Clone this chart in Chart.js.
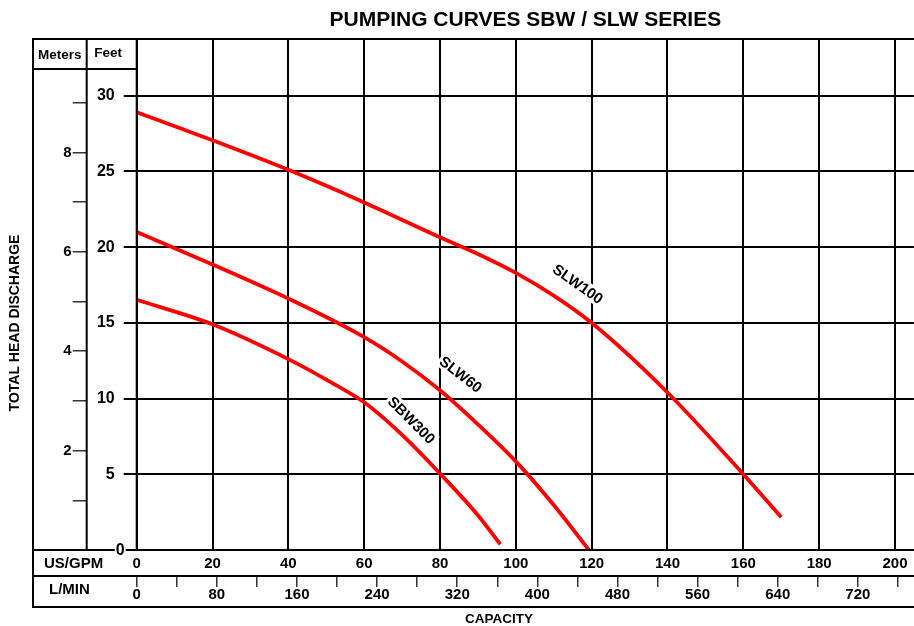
<!DOCTYPE html>
<html>
<head>
<meta charset="utf-8">
<script src="https://cdn.jsdelivr.net/npm/chart.js@4.4.0/dist/chart.umd.min.js"></script>
<style>
html,body{margin:0;padding:0;background:#fff;}
#wrap{width:914px;height:626px;position:relative;}
</style>
</head>
<body>
<div id="wrap"><canvas id="c" width="914" height="626"></canvas></div>
<script>
// ---- data ----
const gpmTicks = [0, 20, 40, 60, 80, 100, 120, 140, 160, 180, 200];
const lminTicks = [0, 40, 80, 120, 160, 200, 240, 280, 320, 360, 400, 440, 480, 520, 560, 600, 640, 680, 720, 760];
const feetTicks = [0, 5, 10, 15, 20, 25, 30];
const meterTicks = [1, 2, 3, 4, 5, 6, 7, 8, 9];

const slw100Gpm  = [0, 20, 40, 60, 80, 90, 100, 110, 120, 140, 160, 170];
const slw100Feet = [28.9, 27.05, 25.1, 22.95, 20.65, 19.55, 18.3, 16.8, 15.0, 10.4, 5.0, 2.16];

const slw60Gpm  = [0, 20, 40, 60, 70, 80, 90, 100, 110, 119.3];
const slw60Feet = [21.0, 18.85, 16.6, 14.05, 12.45, 10.55, 8.3, 5.85, 2.97, 0.0];

const sbw300Gpm  = [0, 20, 40, 50, 60, 70, 80, 90, 95.9];
const sbw300Feet = [16.52, 14.9, 12.6, 11.25, 9.75, 7.6, 5.05, 2.3, 0.38];

const curveNames  = ['SLW100', 'SLW60', 'SBW300'];
const labelGpm    = [116.4, 85.5, 72.5];
const labelFeet   = [17.57, 11.6, 8.58];
const labelAngle  = [35, 38, 45];

const titleText = 'PUMPING CURVES SBW / SLW SERIES';
const xTitle = 'CAPACITY';
const yTitle = 'TOTAL HEAD DISCHARGE';

// ---- helpers ----
const GPM_MAX = 205.0;
const FEET_MAX = 33.74;
const LPM_PER_GPM = 3.78541;
const M_PER_FT = 0.3048;
const FONT = "'Liberation Sans', Arial, Helvetica, sans-serif";
Chart.defaults.font.family = FONT;
Chart.defaults.color = '#000';

function pts(xs, ys) { return xs.map((x, i) => ({x: x, y: ys[i]})); }
function setTicks(vals) { return function (s) { s.ticks = vals.map(v => ({value: v})); }; }

const framePlugin = {
  id: 'frame',
  afterDatasetsDraw(chart) {
    const {ctx, chartArea: ca, scales} = chart;
    const xs = scales.x, x2 = scales.x2, ys = scales.y, y2 = scales.y2;
    const L = y2.left, R = chart.width;
    ctx.save();
    ctx.strokeStyle = '#000';
    ctx.lineWidth = 2;
    const line = (a, b, c, d) => { ctx.beginPath(); ctx.moveTo(a, b); ctx.lineTo(c, d); ctx.stroke(); };
    line(L, ca.top, R, ca.top);
    line(L, ca.top - 1, L, x2.bottom + 1);
    line(y2.right, ca.top, y2.right, ca.bottom);
    line(ca.left, ca.top, ca.left, ca.bottom);
    line(L, ca.top + 30, ca.left, ca.top + 30);
    line(L, ca.bottom, R, ca.bottom);
    line(L, xs.bottom, R, xs.bottom);
    line(L, x2.bottom, R, x2.bottom);

    ctx.fillStyle = '#000';
    ctx.textBaseline = 'middle';
    // header
    ctx.font = 'bold 13.5px ' + FONT;
    ctx.textAlign = 'center';
    ctx.fillText('Meters', (L + y2.right) / 2, ca.top + 16);
    ctx.textAlign = 'left';
    ctx.fillText('Feet', ys.left + 7.5, ca.top + 14.5);
    // row labels
    ctx.font = 'bold 15px ' + FONT;
    ctx.fillText('US/GPM', L + 11, (ca.bottom + xs.bottom) / 2 + 1);
    ctx.fillText('L/MIN', L + 16, x2.top + 14);
    // feet zero
    ctx.font = 'bold 16px ' + FONT;
    ctx.textAlign = 'right';
    const zx = ca.left - 12, zy = ys.getPixelForValue(0);
    const zw = ctx.measureText('0').width;
    ctx.fillStyle = '#fff';
    ctx.fillRect(zx - zw - 1, zy - 7, zw + 2, 14);
    ctx.fillStyle = '#000';
    ctx.fillText('0', zx, zy + 1);
    // axis titles
    ctx.font = 'bold 13.5px ' + FONT;
    ctx.textAlign = 'center';
    ctx.fillText(xTitle, 499, x2.bottom + 12);
    ctx.save();
    ctx.translate(15, 323);
    ctx.rotate(-Math.PI / 2);
    ctx.font = 'bold 14px ' + FONT;
    ctx.fillText(yTitle, 0, 0);
    ctx.restore();
    // curve labels
    ctx.font = 'bold 15px ' + FONT;
    curveNames.forEach((name, i) => {
      const px = xs.getPixelForValue(labelGpm[i]);
      const py = ys.getPixelForValue(labelFeet[i]);
      ctx.save();
      ctx.translate(px, py);
      ctx.rotate(labelAngle[i] * Math.PI / 180);
      const w = ctx.measureText(name).width;
      ctx.fillStyle = '#fff';
      ctx.fillRect(-w / 2 - 2, -8, w + 4, 16);
      ctx.fillStyle = '#000';
      ctx.textAlign = 'center';
      ctx.fillText(name, 0, 1);
      ctx.restore();
    });
    ctx.restore();
  }
};

const curveStyle = {
  borderColor: 'rgb(255,0,0)',
  borderWidth: 3.8,
  pointRadius: 0,
  fill: false,
  cubicInterpolationMode: 'monotone',
  xAxisID: 'x',
  yAxisID: 'y'
};

new Chart(document.getElementById('c'), {
  type: 'line',
  data: {
    datasets: [
      Object.assign({label: curveNames[0], data: pts(slw100Gpm, slw100Feet)}, curveStyle),
      Object.assign({label: curveNames[1], data: pts(slw60Gpm, slw60Feet)}, curveStyle),
      Object.assign({label: curveNames[2], data: pts(sbw300Gpm, sbw300Feet)}, curveStyle)
    ]
  },
  options: {
    responsive: false,
    animation: false,
    devicePixelRatio: 1,
    layout: {padding: {left: 33, right: 0, top: 0, bottom: 19}},
    plugins: {
      legend: {display: false},
      tooltip: {enabled: false},
      title: {
        display: true,
        text: titleText,
        fullSize: false,
        color: '#000',
        font: {size: 21, weight: 'bold', lineHeight: 20 / 21},
        padding: {top: 10, bottom: 9}
      }
    },
    scales: {
      x: {
        type: 'linear', position: 'bottom', weight: 0,
        min: 0, max: GPM_MAX,
        afterBuildTicks: setTicks(gpmTicks),
        afterFit: s => { s.height = 26; },
        grid: {color: '#000', lineWidth: 2, drawTicks: false},
        border: {display: false},
        ticks: {autoSkip: false, maxRotation: 0, padding: 6.5, color: '#000',
                font: {size: 15, weight: 'bold', lineHeight: 1}}
      },
      x2: {
        type: 'linear', position: 'bottom', weight: 1,
        min: 0, max: GPM_MAX * LPM_PER_GPM,
        afterBuildTicks: setTicks(lminTicks),
        afterFit: s => { s.height = 31; },
        grid: {drawOnChartArea: false, color: '#333', lineWidth: 1.5, tickLength: 11},
        border: {display: false},
        ticks: {autoSkip: false, maxRotation: 0, padding: 0, color: '#000',
                font: {size: 15, weight: 'bold', lineHeight: 1},
                callback: v => (v % 80 === 0 ? String(v) : '')}
      },
      y: {
        type: 'linear', position: 'left', weight: 0,
        min: 0, max: FEET_MAX,
        afterBuildTicks: setTicks(feetTicks),
        afterFit: s => { s.width = 50; },
        grid: {color: '#000', lineWidth: 2, tickLength: 13},
        border: {display: false},
        ticks: {padding: 9, color: '#000', font: {size: 16, weight: 'bold'},
                callback: v => (v === 0 ? '' : String(v))}
      },
      y2: {
        type: 'linear', position: 'left', weight: 1,
        min: 0, max: FEET_MAX * M_PER_FT,
        afterBuildTicks: setTicks(meterTicks),
        afterFit: s => { s.width = 53.7; },
        grid: {drawOnChartArea: false, color: '#333', lineWidth: 1.5, tickLength: 14},
        border: {display: false},
        ticks: {padding: 1, color: '#000', font: {size: 15, weight: 'bold'},
                callback: v => (v % 2 === 0 ? String(v) : '')}
      }
    }
  },
  plugins: [framePlugin]
});
</script>
</body>
</html>
